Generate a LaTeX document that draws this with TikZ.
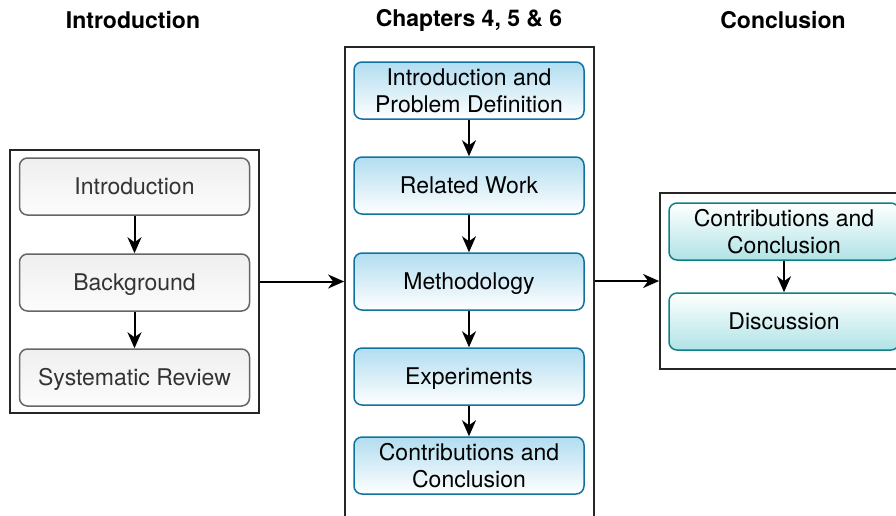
\documentclass[tikz,border=0pt]{standalone}
\usepackage{fontspec}
\setmainfont{TeX Gyre Heros}
\usetikzlibrary{arrows.meta}
\definecolor{grayline}{HTML}{666666}
\definecolor{graytext}{HTML}{333333}
\definecolor{graytop}{HTML}{EFEFEF}
\definecolor{grayfill}{HTML}{FCFCFC}
\definecolor{blueline}{HTML}{10739E}
\definecolor{bluefill}{HTML}{B1DDF0}
\definecolor{tealline}{HTML}{0E8088}
\definecolor{tealfill}{HTML}{B0E3E6}
\begin{document}
\begin{tikzpicture}[x=1pt,y=-1pt,
    box/.style={rounded corners=8pt,line width=1.5pt,minimum width=230pt,minimum height=57pt,
      align=center,inner sep=0pt,font=\fontsize{23}{27}\selectfont},
    oneline/.style={text height=19.5pt,text depth=4.5pt},
    graybox/.style={box,oneline,draw=grayline,top color=graytop,bottom color=grayfill,text=graytext},
    bluebox/.style={box,draw=blueline,top color=bluefill,bottom color=white},
    tealbox/.style={box,draw=tealline,top color=white,bottom color=tealfill},
    frame/.style={draw=black!85,line width=1.8pt,inner sep=0pt},
    title/.style={font=\fontsize{23}{27}\selectfont\bfseries},
    arr/.style={line width=2pt,-{Stealth[length=16pt,width=14pt,inset=5pt]}}]
      \clip (0,0) rectangle (896,515);
      % titles
      \node[title] (introtitle) at (133,20) {Introduction};
      \node[title] (chaptitle) at (469,20) {Chapters 4, 5 \& 6};
      \node[title] (conctitle) at (783,20) {Conclusion};
      % frames
      \node[frame,minimum width=249pt,minimum height=263pt] (introframe) at (134.5,281.5) {};
      \node[frame,minimum width=249pt,minimum height=513pt] (chapframe) at (469.5,303.5) {};
      \node[frame,minimum width=250pt,minimum height=176pt] (concframe) at (785,281) {};
      % introduction
      \node[graybox] (intro) at (134.5,186.5) {Introduction};
      \node[graybox] (background) at (134.5,282.5) {Background};
      \node[graybox] (review) at (134.5,377.5) {Systematic Review};
      \draw[arr] (intro) -- (background);
      \draw[arr] (background) -- (review);
      % chapters
      \node[bluebox] (problem) at (469,90.5) {Introduction and\\Problem Definition};
      \node[bluebox,oneline] (related) at (469,185.5) {Related Work};
      \node[bluebox,oneline] (method) at (469,281.5) {Methodology};
      \node[bluebox,oneline] (experiments) at (469,376.5) {Experiments};
      \node[bluebox] (contrib) at (469,465.5) {Contributions and\\Conclusion};
      \draw[arr] (problem) -- (related);
      \draw[arr] (related) -- (method);
      \draw[arr] (method) -- (experiments);
      \draw[arr] (experiments) -- (contrib);
      % conclusion
      \node[tealbox] (conccontrib) at (784,231.5) {Contributions and\\Conclusion};
      \node[tealbox,oneline] (discussion) at (784,321.5) {Discussion};
      \draw[arr] (conccontrib) -- (discussion);
      % between frames
      \draw[arr] (introframe.east) -- (introframe.east -| chapframe.west);
      \draw[arr] (concframe.west -| chapframe.east) -- (concframe.west);
\end{tikzpicture}
\end{document}
